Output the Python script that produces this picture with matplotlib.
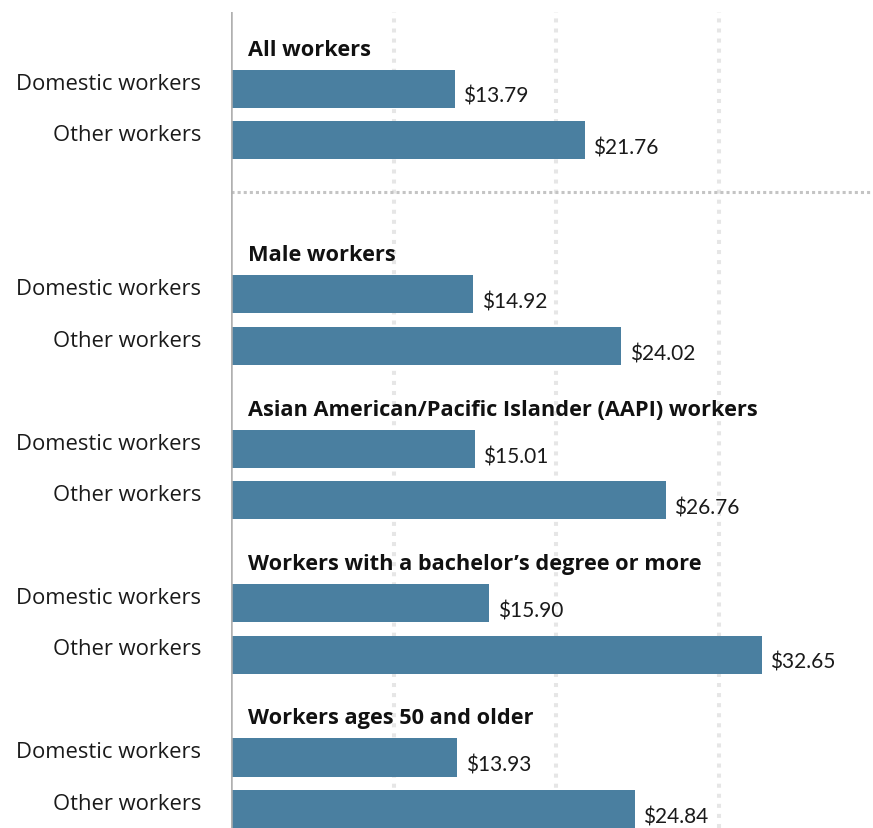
import matplotlib
matplotlib.use("Agg")
import matplotlib.pyplot as plt

plt.rcParams['font.family'] = ['Open Sans', 'DejaVu Sans']

groups = [
    "All workers",
    "Male workers",
    "Asian American/Pacific Islander (AAPI) workers",
    "Workers with a bachelor\u2019s degree or more",
    "Workers ages 50 and older",
]
row_labels = ["Domestic workers", "Other workers"]
domestic_wages = [13.79, 14.92, 15.01, 15.90, 13.93]
other_wages = [21.76, 24.02, 26.76, 32.65, 24.84]
x_ticks = [10, 20, 30]

BAR_COLOR = "#4a7fa0"
TEXT_COLOR = "#1a1a1a"

fig = plt.figure(figsize=(8.73, 8.29), dpi=100)
ax = fig.add_axes([231 / 873, 0.0, 642 / 873, (829 - 13) / 829])

# slot positions: first group, separator slot, then groups of three slots
group_starts = [0, 4, 7, 10, 13]
bar_h = 0.74

for gx in x_ticks:
    ax.axvline(gx, color="#e6e6e6", lw=2.9, linestyle=(0, (1, 1.5)),
               dash_capstyle="butt", zorder=0)

for g, start in enumerate(group_starts):
    vals = [domestic_wages[g], other_wages[g]]
    for k, v in enumerate(vals):
        y = start + k
        ax.barh(y, v, height=bar_h, color=BAR_COLOR, zorder=2)
        ax.text(v + 0.5, y + 0.14, f"${v:.2f}", va="center", ha="left",
                fontsize=15, color=TEXT_COLOR, family=["Lato", "DejaVu Sans"])
        ax.text(-1.85, y - 0.11, row_labels[k], va="center", ha="right",
                fontsize=15.8, color=TEXT_COLOR, clip_on=False)
    ax.text(1.05, start - 0.77, groups[g], va="center", ha="left",
            fontsize=15.7, fontweight="bold", color="#111111")

# dotted separator after the overall group
ax.plot([0, 39.5], [2, 2], color="#c4c4c4", lw=2.2, linestyle=(0, (1, 1)),
        dash_capstyle="butt", zorder=1, clip_on=False)

ax.axvline(0, color="#b0b0b0", lw=1.8, zorder=3)

ax.set_xlim(0, 39.5)
ax.set_ylim(14.37, -1.49)
ax.axis("off")

fig.savefig("out.png", dpi=100)
